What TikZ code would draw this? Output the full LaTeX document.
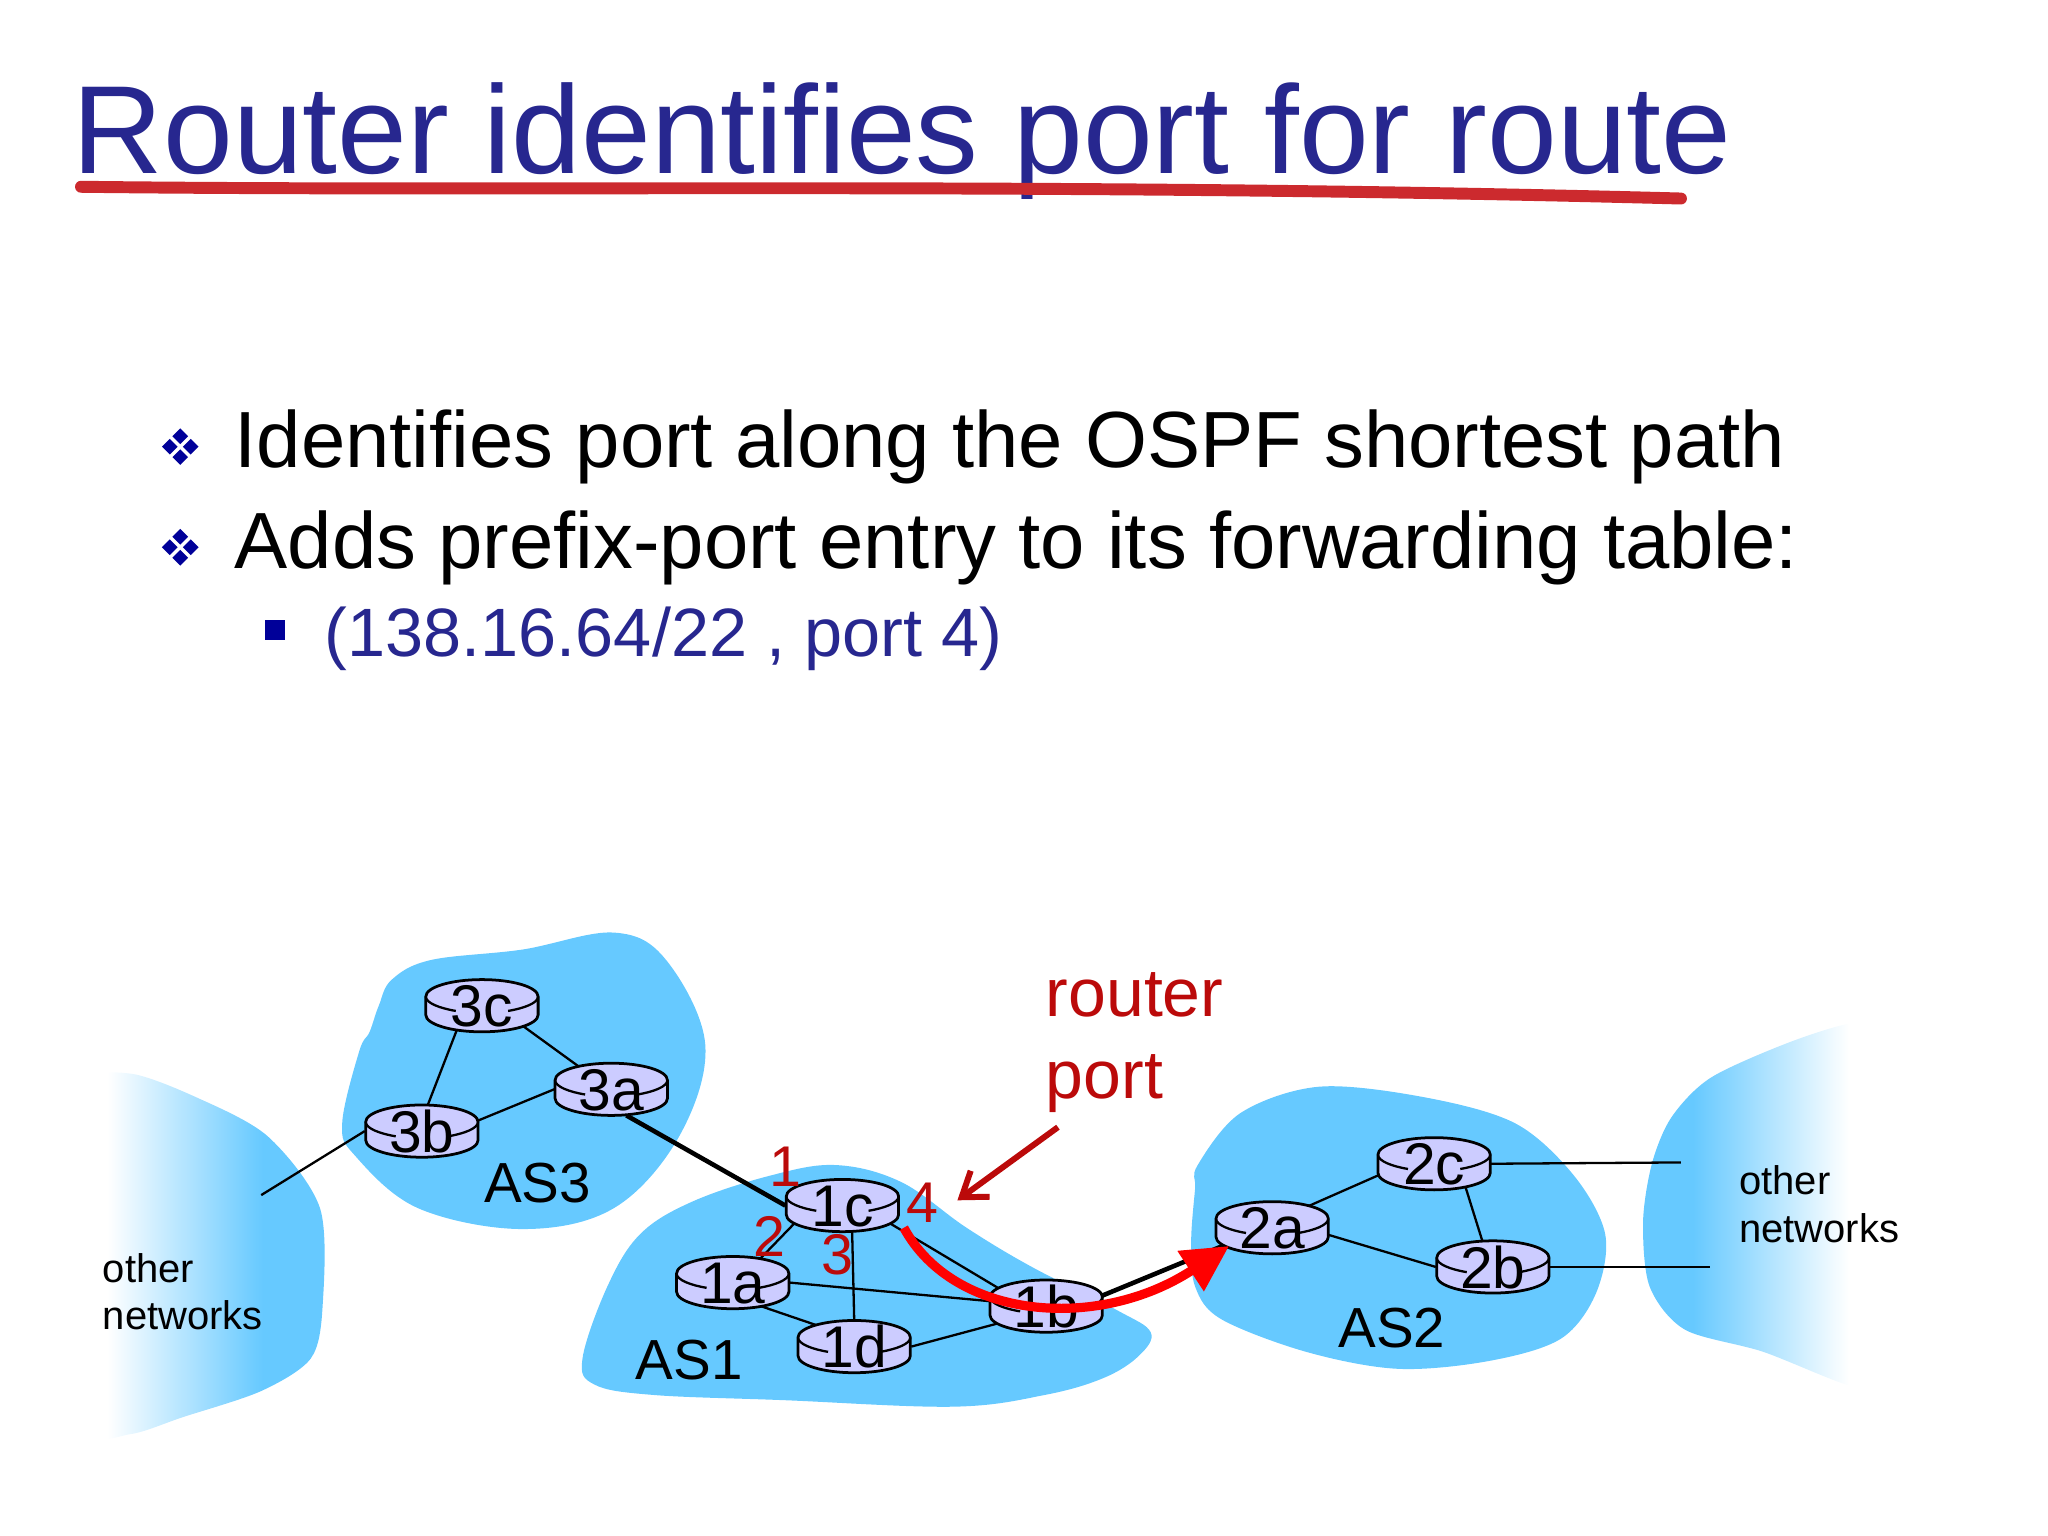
\documentclass[tikz,border=0pt]{standalone}
\usepackage{fontspec}
\setmainfont{Liberation Sans}
\usetikzlibrary{arrows.meta}
\usetikzlibrary{backgrounds}
\usetikzlibrary{shapes.geometric}

\definecolor{titleblue}{HTML}{27278F}
\definecolor{bulletblue}{HTML}{000099}
\definecolor{cloudblue}{HTML}{66C9FF}
\definecolor{routerfill}{HTML}{CCCCFF}
\definecolor{portred}{HTML}{BB0A0A}
\definecolor{underred}{HTML}{CC2A2E}

\pgfdeclarehorizontalshading{leftnet}{100bp}{color(0bp)=(white); color(31bp)=(white); color(62bp)=(cloudblue); color(100bp)=(cloudblue)}
\pgfdeclarehorizontalshading{rightnet}{100bp}{color(0bp)=(cloudblue); color(35bp)=(cloudblue); color(66bp)=(white); color(100bp)=(white)}

\tikzset{
	textline/.style = {anchor = base west, inner sep = 0pt},
	titletext/.style = {textline, text = titleblue, font = \fontsize{27.3}{30}\selectfont},
	bodytext/.style = {textline, font = \fontsize{17.35}{20}\selectfont},
	subtext/.style = {textline, text = titleblue, font = \fontsize{14.9}{17}\selectfont},
	astext/.style = {textline, font = \fontsize{12.3}{15}\selectfont},
	nettext/.style = {textline, align = left, font = \fontsize{8.7}{10.3}\selectfont},
	porttext/.style = {inner sep = 0pt, text = portred, font = \fontsize{12.5}{14}\selectfont},
	routerlabel/.style = {ellipse, inner sep = 0pt, minimum width = 0.86cm, minimum height = 0.4cm, font = \fontsize{12.8}{14}\selectfont},
	link/.style = {line width = 0.5pt},
	thicklink/.style = {line width = 1pt},
}

\newcommand{\diamondmark}[1]{
	\foreach \dx/\dy in {0/-8, 0/8, -8/0, 8/0} {
		\fill[bulletblue, shift = {(#1)}, shift = {(\dx, \dy)}] (-6, 0) -- (0, -6) -- (6, 0) -- (0, 6) -- cycle;
	}
}

\newcommand{\routermark}[3]{
	\begin{scope}[shift = {(#2)}]
		\draw[line width = 0.6pt, fill = routerfill] (-43, -7) .. controls (-43, -14.2) and (-23.7, -20) .. (0, -20) .. controls (23.7, -20) and (43, -14.2) .. (43, -7) -- (43, 7) .. controls (43, 14.2) and (23.7, 20) .. (0, 20) .. controls (-23.7, 20) and (-43, 14.2) .. (-43, 7) -- cycle;
		\draw[line width = 0.5pt] (-43, -7) .. controls (-43, -2) and (-32, 2) .. (-20, 4);
		\draw[line width = 0.5pt] (43, -7) .. controls (43, -2) and (32, 2) .. (20, 4);
	\end{scope}
	\node[routerlabel] (#1) at (#2) {\raisebox{-0.36em}[0pt][0pt]{\makebox[0pt]{#3}}};
}

\begin{document}
\begin{tikzpicture}[x = 0.01cm, y = -0.01cm]

	\useasboundingbox (0, 0) rectangle (1568, 1176);

	\begin{scope}[on background layer]
		\fill[cloudblue] plot[smooth cycle, tension = 0.6] coordinates {(290, 770) (300, 750) (330, 735) (400, 727) (470, 714) (510, 735) (540, 800) (520, 870) (470, 925) (400, 941) (320, 925) (272, 885) (262, 860) (275, 805) (283, 790)};
		\fill[cloudblue] plot[smooth cycle, tension = 0.6] coordinates {(446, 1040) (465, 985) (490, 945) (530, 920) (590, 900) (640, 892) (690, 905) (740, 940) (790, 970) (855, 1003) (881, 1020) (872, 1038) (845, 1055) (800, 1068) (730, 1077) (600, 1072) (500, 1068) (455, 1060)};
		\fill[cloudblue] plot[smooth cycle, tension = 0.55] coordinates {(917, 892) (950, 852) (1010, 832) (1090, 840) (1160, 860) (1205, 900) (1229, 945) (1222, 990) (1195, 1025) (1140, 1042) (1070, 1048) (1000, 1035) (935, 1010) (915, 985) (912, 950) (915, 910)};
		\shade[shading = leftnet] plot[smooth cycle, tension = 0.5] coordinates {(65, 830) (100, 822) (150, 840) (205, 870) (245, 925) (247, 1000) (238, 1040) (200, 1065) (140, 1085) (100, 1098) (65, 1095) (60, 1000) (60, 900)};
		\shade[shading = rightnet] plot[smooth cycle, tension = 0.5] coordinates {(1258, 935) (1265, 890) (1280, 855) (1310, 825) (1370, 798) (1420, 783) (1445, 790) (1450, 920) (1445, 1055) (1420, 1062) (1350, 1035) (1290, 1018) (1263, 985)};
	\end{scope}

	\node[titletext] (title) at (55, 133) {Router identifies port for route};
	\draw[underred, line width = 2.6pt, line cap = round] (62, 143) .. controls (400, 147) and (800, 139) .. (1287, 152);

	\diamondmark{138, 342}
	\diamondmark{138, 419}
	\fill[bulletblue] (203, 475) rectangle (218, 490);

	\node[bodytext] (firstline) at (179, 358) {Identifies port along the OSPF shortest path};
	\node[bodytext] (secondline) at (179, 435) {Adds prefix-port entry to its forwarding table:};
	\node[subtext] (thirdline) at (248, 503) {(138.16.64/22 , port 4)};

	\routermark{3c}{369, 770}{3c}
	\routermark{3a}{468, 834}{3a}
	\routermark{3b}{323, 866}{3b}
	\routermark{1c}{645, 923}{1c}
	\routermark{1a}{561, 982}{1a}
	\routermark{1d}{654, 1031}{1d}
	\routermark{1b}{801, 1000}{1b}
	\routermark{2a}{974, 940}{2a}
	\routermark{2c}{1098, 891}{2c}
	\routermark{2b}{1143, 970}{2b}

	\coordinate (leftend) at (200, 915);
	\coordinate (topend) at (1287, 890);
	\coordinate (lowend) at (1309, 970);

	\begin{scope}[on background layer]
		\draw[link] (3c.-136) -- (3b.77);
		\draw[link] (3c.-26) -- (3a.145);
		\draw[link] (3b.10) -- (3a.west);
		\draw[link] (3b.west) -- (leftend);
		\draw[thicklink] (3a.-60) -- (1c.west);
		\draw[link] (1c.-161) -- (1a.41);
		\draw[link] (1c.-70) -- (1d.north);
		\draw[link] (1c.-20) -- (1b.160);
		\draw[link] (1a.-40) -- (1d.150);
		\draw[link] (1a.east) -- (1b.175);
		\draw[link] (1d.east) -- (1b.-160);
		\draw[thicklink] (1b.10) -- (2a.-160);
		\draw[link] (2a.31) -- (2c.-169);
		\draw[link] (2a.-7) -- (2b.west);
		\draw[link] (2c.-36) -- (2b.112);
		\draw[link] (2c.east) -- (topend);
		\draw[link] (2b.east) -- (lowend);
	\end{scope}

	\node[astext] (as3) at (370, 921) {AS3};
	\node[astext] (as1) at (486, 1056) {AS1};
	\node[astext] (as2) at (1024, 1032) {AS2};

	\node[nettext, anchor = north west] (leftnets) at (78, 959) {other\\networks};
	\node[nettext, anchor = north west] (rightnets) at (1331, 892) {other\\networks};

	\node[porttext] (port1) at (601, 893) {1};
	\node[porttext] (port2) at (589, 947) {2};
	\node[porttext] (port3) at (641, 961) {3};
	\node[porttext] (port4) at (706, 921) {4};

	\node[textline, align = left, text = portred, font = \fontsize{14.8}{17.8}\selectfont] (routerport) at (800, 841) {router\\port};
	\coordinate (calloutstart) at (810, 863);
	\coordinate (calloutend) at (733, 919);
	\draw[portred, line width = 1.3pt, -{Straight Barb[length = 5pt, width = 7pt]}] (calloutstart) -- (calloutend);

	\coordinate (pathstart) at (692, 940);
	\coordinate (pathend) at (941, 954);
	\draw[red, line width = 2pt, -{Triangle[length = 10pt, width = 10pt]}] (pathstart) .. controls (730, 1010) and (840, 1020) .. (pathend);

\end{tikzpicture}
\end{document}
